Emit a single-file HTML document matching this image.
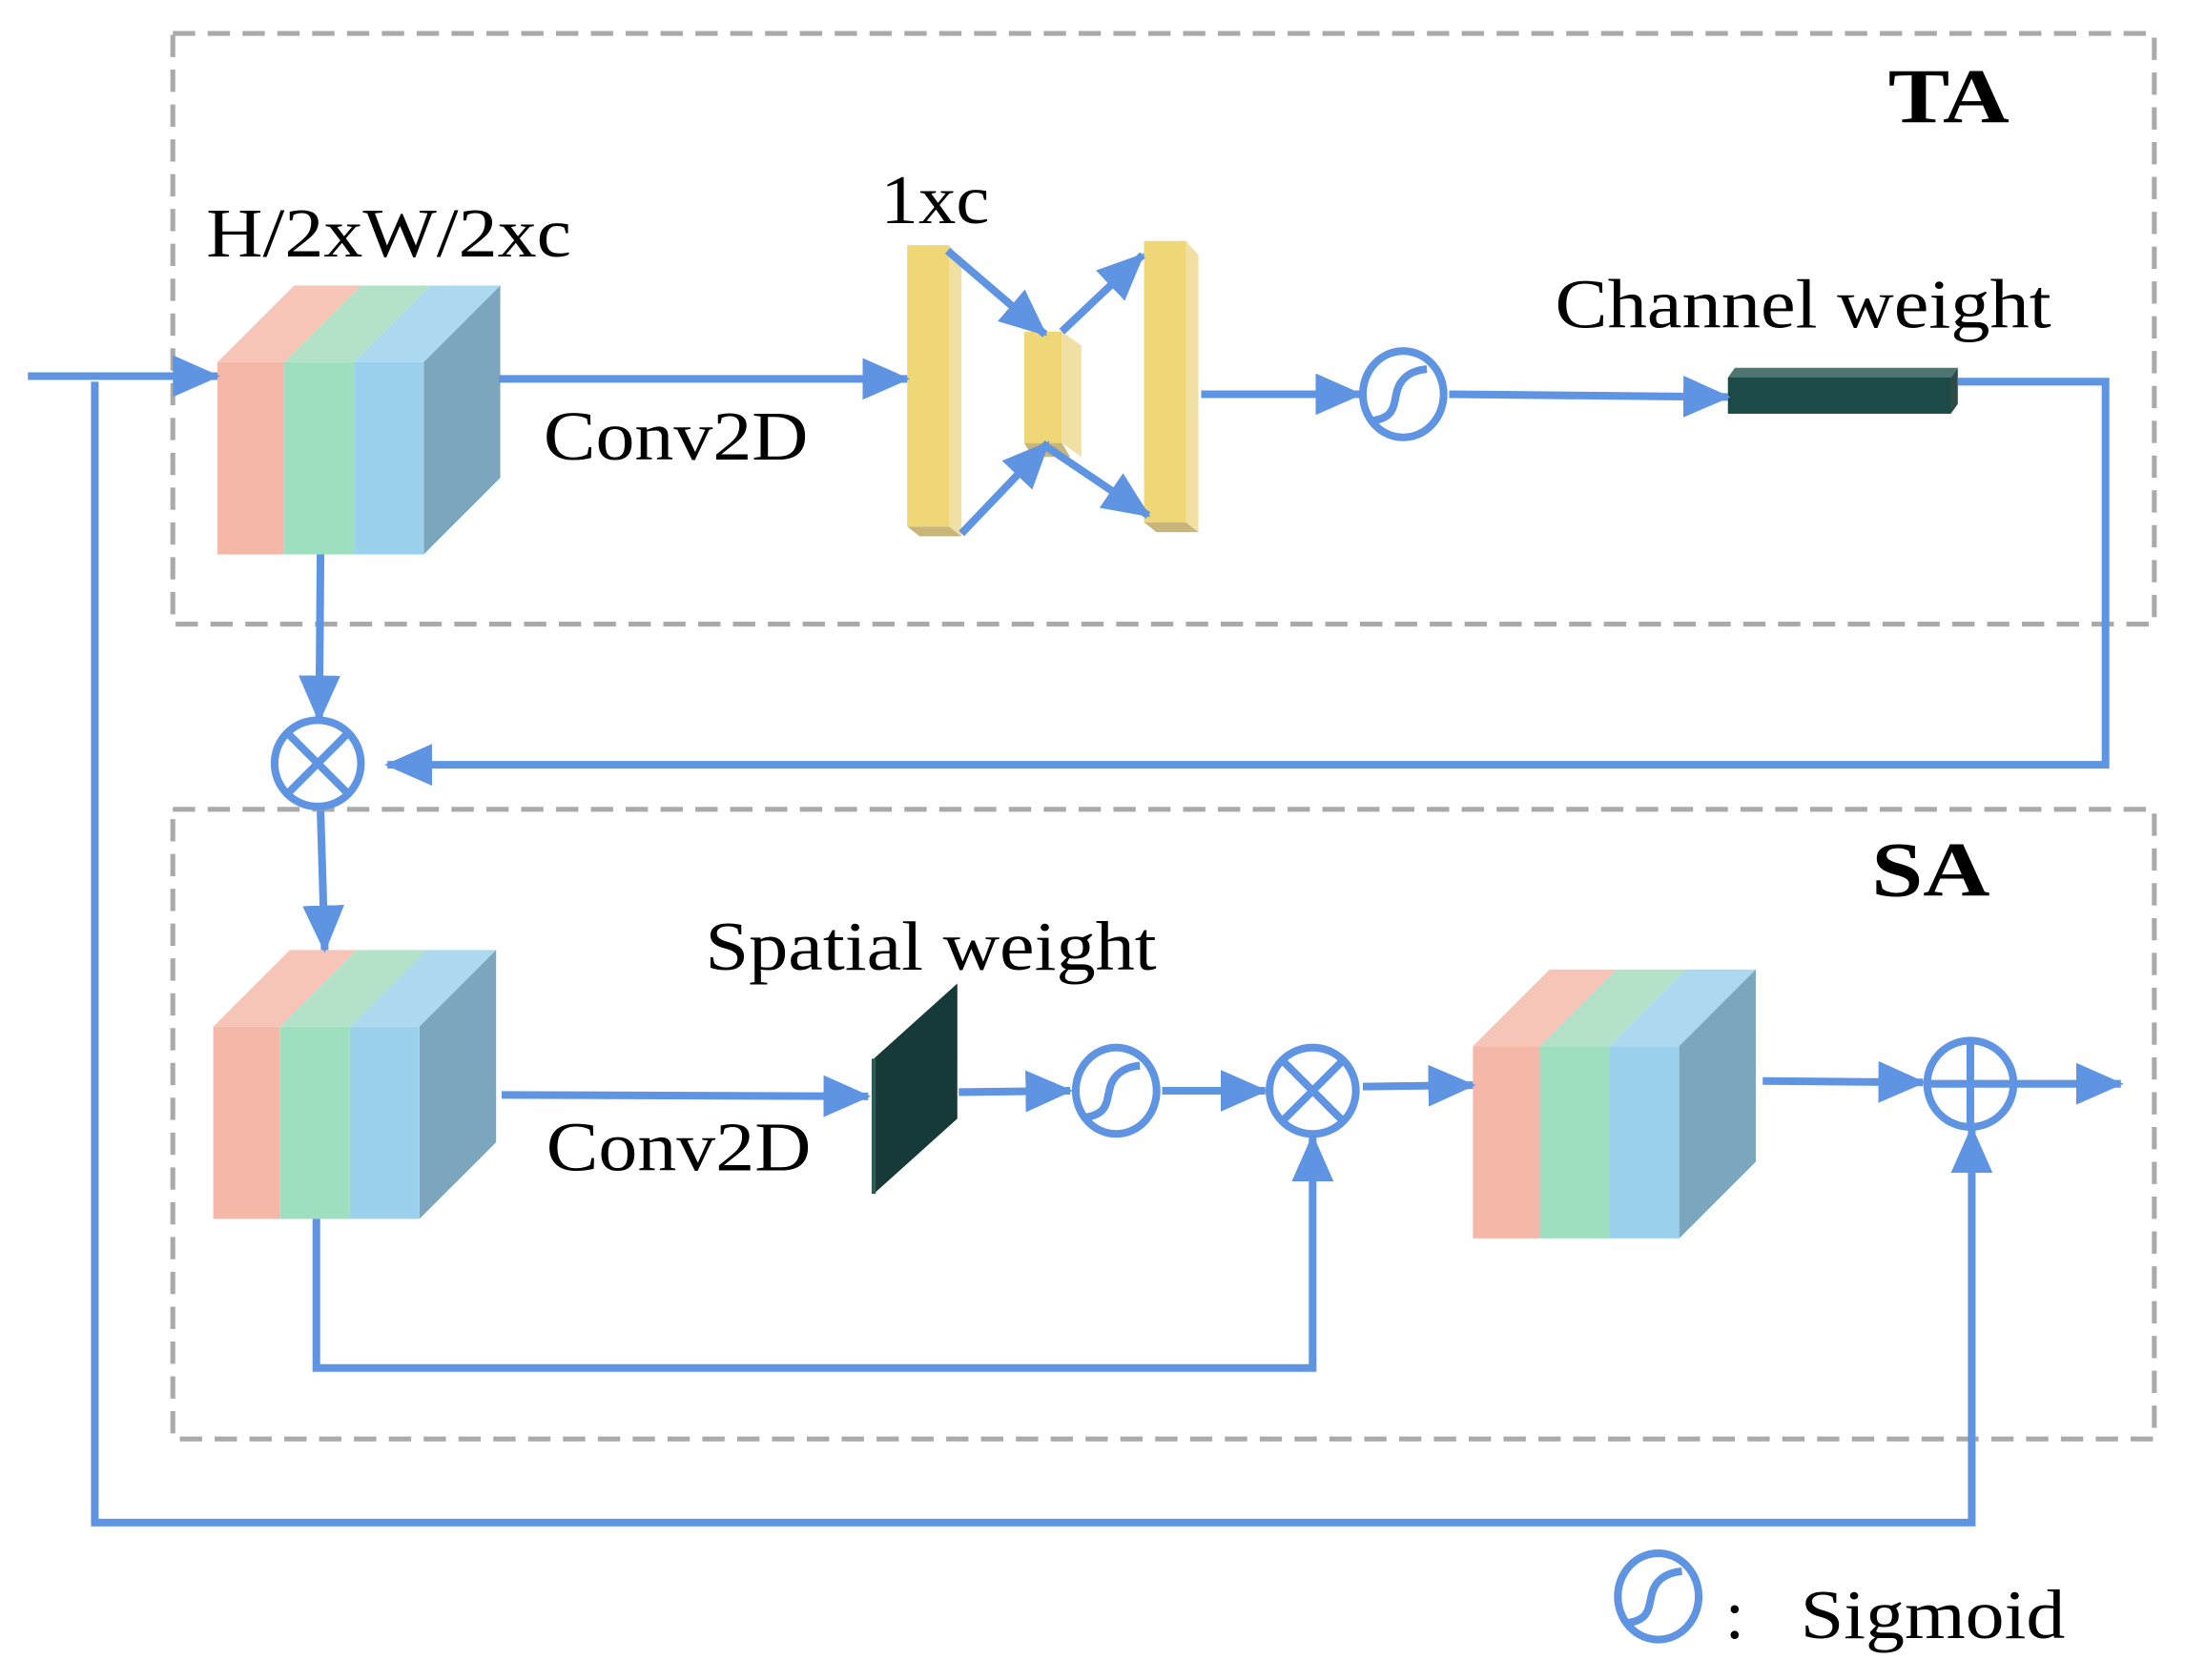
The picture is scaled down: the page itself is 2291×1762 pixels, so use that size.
<!DOCTYPE html>
<html><head><meta charset="utf-8"><style>html,body{margin:0;padding:0;background:#fff}svg{display:block}</style></head>
<body>
<svg width="2291" height="1762" viewBox="0 0 1568 1206" xmlns="http://www.w3.org/2000/svg" font-family="'Liberation Serif', serif">
<defs>
<marker id="b" markerWidth="34" markerHeight="30" refX="32" refY="15" orient="auto" markerUnits="userSpaceOnUse" viewBox="0 0 34 30"><path d="M0,0 L34,15 L0,30 z" fill="#5f94e3"/></marker>
<g id="cube">
<polygon points="0,0 48,0 103,-55 55,-55" fill="#f6c5b8"/>
<polygon points="48,0 98,0 153,-55 103,-55" fill="#b3e2c9"/>
<polygon points="98,0 148,0 203,-55 153,-55" fill="#acd9ef"/>
<polygon points="148,0 203,-55 203,83 148,138" fill="#7ba6be"/>
<rect x="0" y="0" width="48" height="138" fill="#f5b7a8"/>
<rect x="48" y="0" width="50" height="138" fill="#9ddfbf"/>
<rect x="98" y="0" width="50" height="138" fill="#9bd1ed"/>
</g>
</defs>
<rect width="1568" height="1206" fill="#fff"/>
<g fill="none" stroke="#aaaaaa" stroke-width="3.5" stroke-dasharray="16,9">
<rect x="124" y="24" width="1422" height="424"/>
<rect x="124" y="581" width="1422" height="452"/>
</g>
<g font-size="56" font-weight="bold"><text x="1355" y="88" textLength="87" lengthAdjust="spacingAndGlyphs">TA</text><text x="1343" y="643" textLength="85" lengthAdjust="spacingAndGlyphs">SA</text></g>
<g font-size="50">
<text x="148" y="184" textLength="262" lengthAdjust="spacingAndGlyphs">H/2xW/2xc</text>
<text x="632" y="160" textLength="78" lengthAdjust="spacingAndGlyphs">1xc</text>
<text x="390" y="330" textLength="190" lengthAdjust="spacingAndGlyphs">Conv2D</text>
<text x="1116" y="235" textLength="356" lengthAdjust="spacingAndGlyphs">Channel weight</text>
<text x="506" y="696" textLength="324" lengthAdjust="spacingAndGlyphs">Spatial weight</text>
<text x="392" y="840" textLength="190" lengthAdjust="spacingAndGlyphs">Conv2D</text>
<text x="1238" y="1176">:</text>
<text x="1292" y="1176" textLength="190" lengthAdjust="spacingAndGlyphs">Sigmoid</text>
</g>
<use href="#cube" x="156" y="260"/>
<use href="#cube" x="153" y="737"/>
<use href="#cube" x="1057" y="751"/>
<g>
<polygon points="681,176 690,186 690,385 681,378" fill="#f0e0a4"/><polygon points="651,378 681,378 690,385 660,385" fill="#c9b47a"/><rect x="651" y="176" width="30" height="202" fill="#efd676"/>
<polygon points="762,238 776,248 776,328 762,318" fill="#f0e0a4"/><polygon points="735,318 762,318 768,328 741,328" fill="#c9b47a"/><rect x="735" y="238" width="27" height="80" fill="#efd676"/>
<polygon points="851,173 860,183 860,382 851,375" fill="#f0e0a4"/><polygon points="821,375 851,375 860,382 830,382" fill="#c9b47a"/><rect x="821" y="173" width="30" height="202" fill="#efd676"/>
</g>
<polygon points="1240,271 1245,264 1405,264 1400,271" fill="#4f7570"/>
<polygon points="1400,271 1405,264 1405,290 1400,297" fill="#2d4c48"/>
<rect x="1240" y="271" width="160" height="26" fill="#1b4a48"/>
<polygon points="627,760 687,706 687,803 627,857" fill="#163a37"/>
<line x1="627" y1="760" x2="627" y2="857" stroke="#2f5a55" stroke-width="3"/>
<g stroke="#5f94e3" stroke-width="5.5" fill="none">
<line x1="20" y1="270" x2="156" y2="270" marker-end="url(#b)"/>
<line x1="358" y1="272" x2="651" y2="272" marker-end="url(#b)"/>
<line x1="680" y1="180" x2="750" y2="240" marker-end="url(#b)"/>
<line x1="762" y1="238" x2="820" y2="183" marker-end="url(#b)"/>
<line x1="690" y1="383" x2="752" y2="318" marker-end="url(#b)"/>
<line x1="750" y1="320" x2="824" y2="370" marker-end="url(#b)"/>
<line x1="862" y1="283" x2="976" y2="283" marker-end="url(#b)"/>
<line x1="1040" y1="283" x2="1240" y2="285" marker-end="url(#b)"/>
<polyline points="1405,274 1511,274 1511,549 278,549" marker-end="url(#b)"/>
<line x1="230" y1="398" x2="229" y2="517" marker-end="url(#b)"/>
<line x1="230" y1="582" x2="233" y2="682" marker-end="url(#b)"/>
<line x1="360" y1="786" x2="623" y2="787" marker-end="url(#b)"/>
<line x1="688" y1="784" x2="768" y2="783" marker-end="url(#b)"/>
<line x1="834" y1="783" x2="908" y2="783" marker-end="url(#b)"/>
<line x1="978" y1="780" x2="1057" y2="779" marker-end="url(#b)"/>
<polyline points="227,875 227,982 942,982 942,816" marker-end="url(#b)"/>
<line x1="1265" y1="776" x2="1380" y2="777" marker-end="url(#b)"/>
<line x1="1446" y1="778" x2="1522" y2="778" marker-end="url(#b)"/>
<polyline points="68,274 68,1093 1415,1093 1415,810" marker-end="url(#b)"/>
<circle cx="228" cy="548" r="31"/><line x1="206" y1="526" x2="250" y2="570"/><line x1="250" y1="526" x2="206" y2="570"/>
<circle cx="942" cy="783" r="31"/><line x1="920" y1="761" x2="964" y2="805"/><line x1="964" y1="761" x2="920" y2="805"/>
<circle cx="1414" cy="778" r="31"/><line x1="1383" y1="778" x2="1445" y2="778"/><line x1="1414" y1="747" x2="1414" y2="809"/>
<ellipse cx="1007" cy="283" rx="29" ry="31"/><path d="M985,302 C1000,300 1000,292 1002,283 C1004,272 1012,266 1024,265"/>
<ellipse cx="801" cy="783" rx="29" ry="31"/><path d="M779,802 C794,800 794,792 796,783 C798,772 806,766 818,765"/>
<ellipse cx="1190" cy="1146" rx="29" ry="31"/><path d="M1168,1165 C1183,1163 1183,1155 1185,1146 C1187,1135 1195,1129 1207,1128"/>
</g>
</svg>
</body></html>
